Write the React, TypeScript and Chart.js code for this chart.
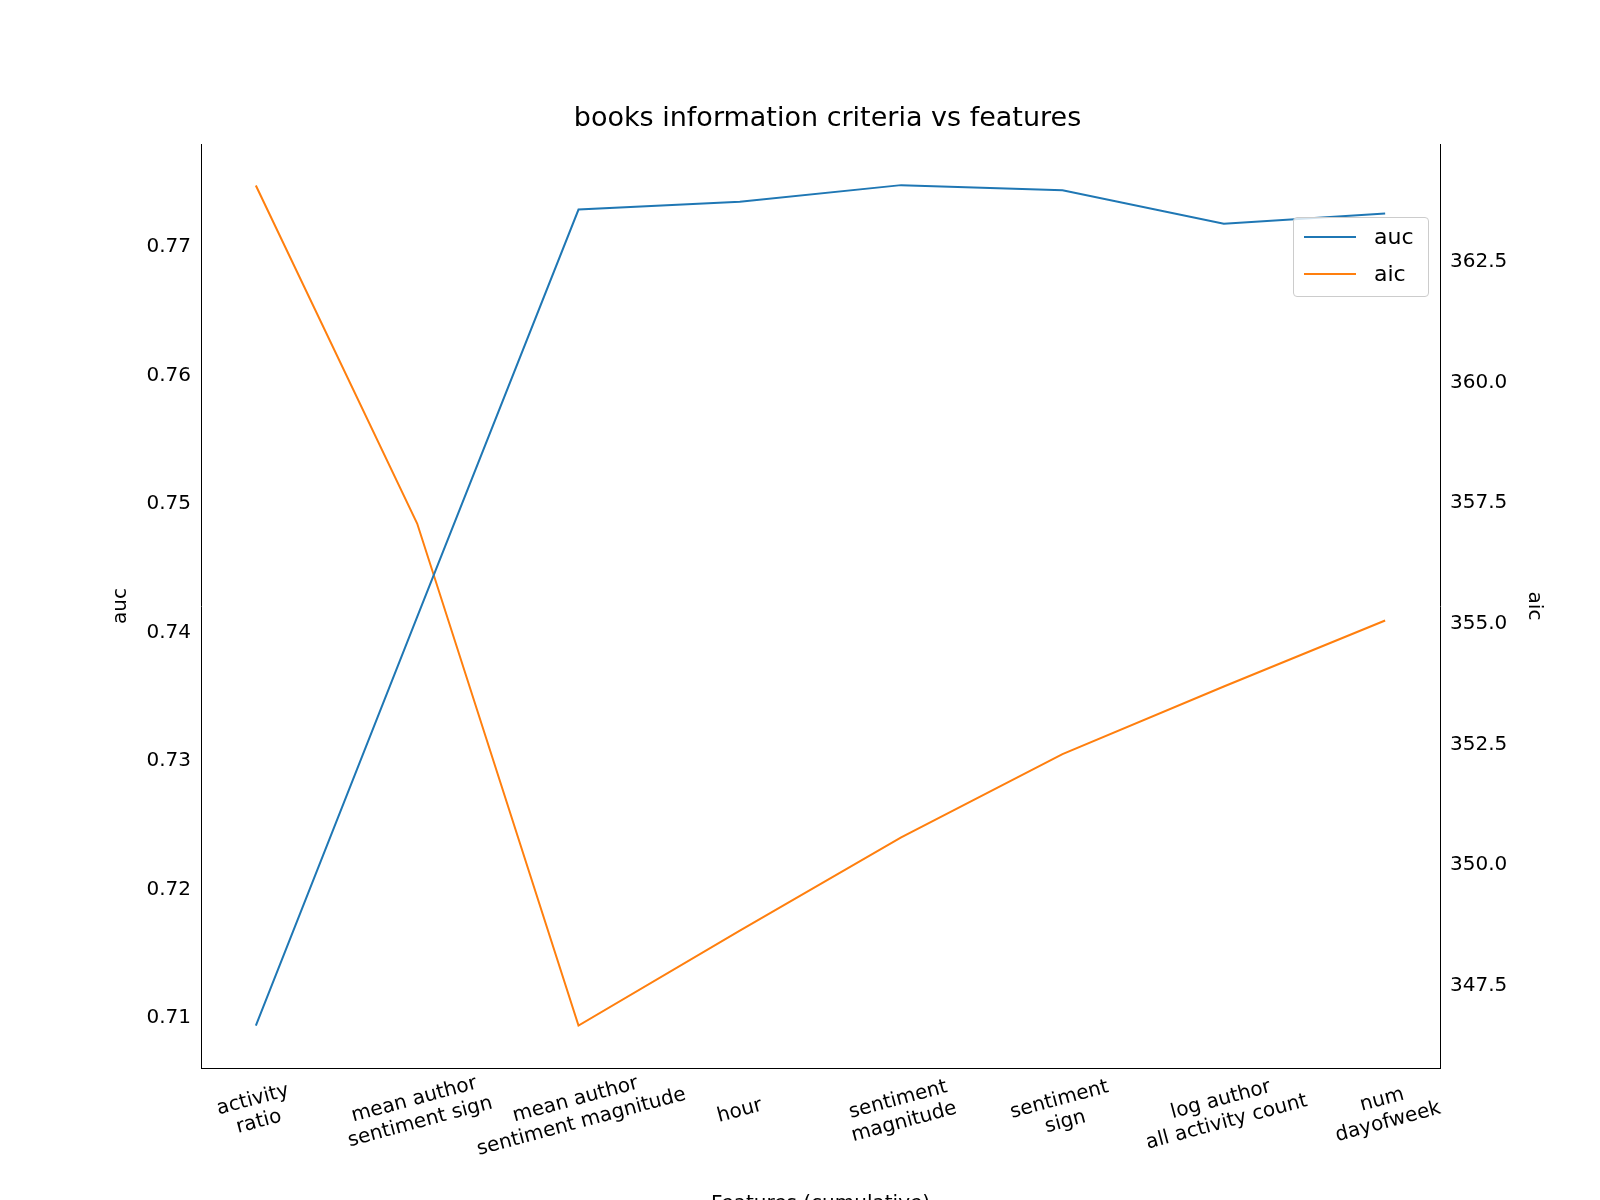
import { useEffect, useRef } from 'react';
import { Chart, registerables } from 'chart.js';

Chart.register(...registerables);

const features = [
  ['activity', 'ratio'],
  ['mean author', 'sentiment sign'],
  ['mean author', 'sentiment magnitude'],
  ['hour'],
  ['sentiment', 'magnitude'],
  ['sentiment', 'sign'],
  ['log author', 'all activity count'],
  ['num', 'dayofweek'],
];
const aucValues = [0.7094, 0.7412, 0.7729, 0.7735, 0.7748, 0.7744, 0.7718, 0.7726];
const aicValues = [364.09, 357.08, 346.67, 348.64, 350.57, 352.3, 353.7, 355.07];
const aucTicks = [0.71, 0.72, 0.73, 0.74, 0.75, 0.76, 0.77];
const aicTicks = [347.5, 350.0, 352.5, 355.0, 357.5, 360.0, 362.5];

const FONT = 'DejaVu Sans';

// x labels are drawn centred on the tick and rotated, like matplotlib does
const xLabelPlugin = {
  id: 'xLabels',
  afterDraw(chart: any) {
    const { ctx, scales, chartArea } = chart;
    const x = scales.x;
    ctx.save();
    ctx.fillStyle = '#000';
    ctx.font = `20px "${FONT}"`;
    ctx.textAlign = 'center';
    ctx.textBaseline = 'middle';
    features.forEach((lines, i) => {
      const px = x.getPixelForValue(i);
      const cy = chartArea.bottom + 43;
      ctx.save();
      ctx.translate(px, cy);
      ctx.rotate((-15 * Math.PI) / 180);
      const lh = 23;
      lines.forEach((t, j) => {
        ctx.fillText(t, 0, (j - (lines.length - 1) / 2) * lh);
      });
      ctx.restore();
    });
    ctx.fillText('Features (cumulative)', (chartArea.left + chartArea.right) / 2, 1204);
    ctx.restore();
  },
};

const App = () => {
  const ref = useRef<HTMLCanvasElement>(null);

  useEffect(() => {
    if (!ref.current) return () => {};
    const chart = new Chart(ref.current, {
      type: 'line',
      data: {
        datasets: [
          {
            label: 'auc',
            data: aucValues.map((v, i) => ({ x: i, y: v })),
            borderColor: '#1f77b4',
            borderWidth: 2,
            pointRadius: 0,
            yAxisID: 'y',
          },
          {
            label: 'aic',
            data: aicValues.map((v, i) => ({ x: i, y: v })),
            borderColor: '#ff7f0e',
            borderWidth: 2,
            pointRadius: 0,
            yAxisID: 'y2',
          },
        ],
      },
      plugins: [xLabelPlugin],
      options: {
        animation: false,
        responsive: false,
        layout: { padding: { left: 105, right: 50, top: 0, bottom: 0 } },
        plugins: {
          legend: { display: false },
          tooltip: { enabled: false },
          title: {
            display: true,
            text: 'books information criteria vs features',
            color: '#000',
            font: { family: FONT, size: 27, weight: 'normal' },
            lineHeight: 1.2,
            padding: { top: 103, bottom: 8.6 },
          },
        },
        scales: {
          x: {
            type: 'linear',
            min: -0.34,
            max: 7.34,
            afterBuildTicks: (s: any) => {
              s.ticks = features.map((_, i) => ({ value: i }));
            },
            afterFit: (s: any) => {
              s.height = 132;
            },
            grid: { display: false, drawTicks: true, tickLength: 7, tickColor: '#000' },
            border: { color: '#000' },
            ticks: { display: false },
          },
          y: {
            type: 'linear',
            position: 'left',
            min: 0.70611,
            max: 0.778,
            afterBuildTicks: (s: any) => {
              s.ticks = aucTicks.map((v) => ({ value: v }));
            },
            afterFit: (s: any) => {
              s.width = 96;
            },
            grid: { display: false, drawTicks: true, tickLength: 7, tickColor: '#000' },
            border: { color: '#000' },
            ticks: {
              color: '#000',
              font: { family: FONT, size: 20 },
              callback: (v: any) => Number(v).toFixed(2),
            },
            title: {
              display: true,
              text: 'auc',
              color: '#000',
              font: { family: FONT, size: 20 },
            },
          },
          y2: {
            type: 'linear',
            position: 'right',
            min: 345.79,
            max: 364.95,
            afterBuildTicks: (s: any) => {
              s.ticks = aicTicks.map((v) => ({ value: v }));
            },
            afterFit: (s: any) => {
              s.width = 110;
            },
            grid: { display: false, drawTicks: true, tickLength: 7, tickColor: '#000' },
            border: { color: '#000' },
            ticks: {
              color: '#000',
              font: { family: FONT, size: 20 },
              callback: (v: any) => Number(v).toFixed(1),
            },
            title: {
              display: true,
              text: 'aic',
              color: '#000',
              font: { family: FONT, size: 20 },
            },
          },
        },
      },
    });
    return () => {
      chart.destroy();
    };
  }, []);

  return (
    <div style={{ position: 'absolute', left: 0, top: 0, width: 1600, height: 1200, background: '#fff', overflow: 'hidden' }}>
      <canvas ref={ref} width={1600} height={1200} />
      <div
        style={{
          position: 'absolute',
          left: 1293,
          top: 217,
          width: 134,
          height: 78,
          border: '1px solid #ccc',
          borderRadius: 4,
          background: 'rgba(255,255,255,0.8)',
          fontFamily: FONT,
          fontSize: 22,
          color: '#000',
        }}
      >
        {[
          ['auc', '#1f77b4'],
          ['aic', '#ff7f0e'],
        ].map(([name, color], i) => (
          <div key={name} style={{ position: 'absolute', left: 10, top: 6 + i * 37, display: 'flex', alignItems: 'center' }}>
            <span style={{ display: 'inline-block', width: 52, height: 2, background: color, marginRight: 18 }} />
            <span>{name}</span>
          </div>
        ))}
      </div>
    </div>
  );
};

export default App;
